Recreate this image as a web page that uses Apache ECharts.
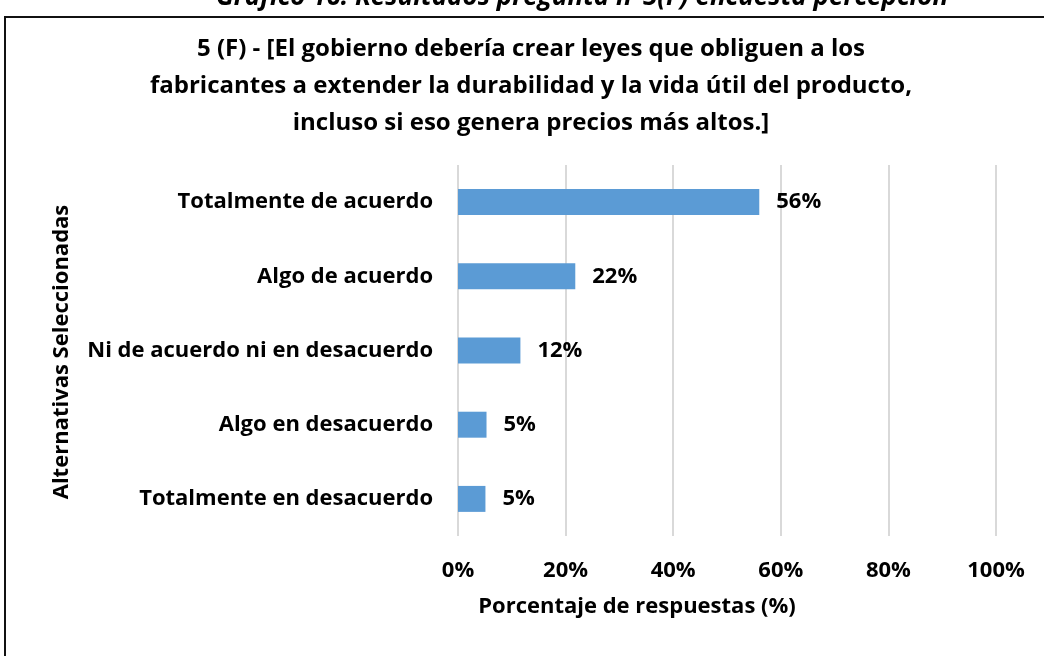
<!DOCTYPE html>
<html>
<head>
<meta charset="utf-8">
<script src="https://cdn.jsdelivr.net/npm/echarts@6/dist/echarts.min.js"></script>
<style>
  html, body { margin: 0; padding: 0; background: #fff; }
  #chart { width: 1044px; height: 656px; }
</style>
</head>
<body>
<div id="chart"></div>
<script>
// categories from top to bottom
const categories = [
  'Totalmente de acuerdo',
  'Algo de acuerdo',
  'Ni de acuerdo ni en desacuerdo',
  'Algo en desacuerdo',
  'Totalmente en desacuerdo'
]
// percent of responses
const values = [56.0, 21.8, 11.6, 5.3, 5.1]
const xTicks = [0, 20, 40, 60, 80, 100]

const FONT = '"Open Sans", Lato, sans-serif'
const chart = echarts.init(document.getElementById('chart'))

chart.setOption({
  backgroundColor: '#fff',
  animation: false,
  textStyle: { fontFamily: FONT },
  title: {
    text: '5 (F) - [El gobierno debería crear leyes que obliguen a los\nfabricantes a extender la durabilidad y la vida útil del producto,\nincluso si eso genera precios más altos.]',
    left: 526,
    top: 26,
    textAlign: 'center',
    textStyle: {
      fontFamily: FONT,
      fontSize: 24,
      fontWeight: 'bold',
      color: '#000',
      lineHeight: 37
    }
  },
  grid: { left: 458, right: 48, top: 165, bottom: 120 },
  xAxis: {
    type: 'value',
    min: xTicks[0],
    max: xTicks[xTicks.length - 1],
    interval: 20,
    axisLine: { show: false },
    axisTick: { show: false },
    splitLine: { lineStyle: { color: '#d9d9d9', width: 2 } },
    axisLabel: {
      formatter: '{value}%',
      color: '#000',
      fontFamily: FONT,
      fontSize: 22,
      fontWeight: 'bold',
      margin: 24
    }
  },
  yAxis: {
    type: 'category',
    data: categories,
    inverse: true,
    axisLine: { show: false },
    axisTick: { show: false },
    axisLabel: {
      color: '#000',
      fontFamily: FONT,
      fontSize: 22,
      fontWeight: 'bold',
      margin: 25
    }
  },
  series: [{
    type: 'bar',
    data: values,
    barWidth: '35%',
    itemStyle: { color: '#5b9bd5' },
    label: {
      show: true,
      position: 'right',
      distance: 17,
      color: '#000',
      fontFamily: FONT,
      fontSize: 22,
      fontWeight: 'bold',
      formatter: p => Math.round(p.value) + '%'
    }
  }],
  graphic: [
    {
      type: 'text',
      x: 582,
      y: 11,
      style: {
        text: 'Gráfico 16: Resultados pregunta n°5(F) encuesta percepción',
        font: 'italic bold 26px ' + FONT,
        fill: '#000',
        align: 'center',
        verticalAlign: 'bottom'
      }
    },
    {
      type: 'rect',
      shape: { x: 5, y: 17, width: 1100, height: 700 },
      style: { fill: 'none', stroke: '#111', lineWidth: 2 },
      z: 10
    },
    {
      type: 'text',
      x: 637,
      y: 607,
      style: {
        text: 'Porcentaje de respuestas (%)',
        font: 'bold 22px ' + FONT,
        fill: '#000',
        align: 'center',
        verticalAlign: 'middle'
      }
    },
    {
      type: 'text',
      x: 62,
      y: 352,
      rotation: Math.PI / 2,
      style: {
        text: 'Alternativas Seleccionadas',
        font: 'bold 22px ' + FONT,
        fill: '#000',
        align: 'center',
        verticalAlign: 'middle'
      }
    }
  ]
})
</script>
</body>
</html>
